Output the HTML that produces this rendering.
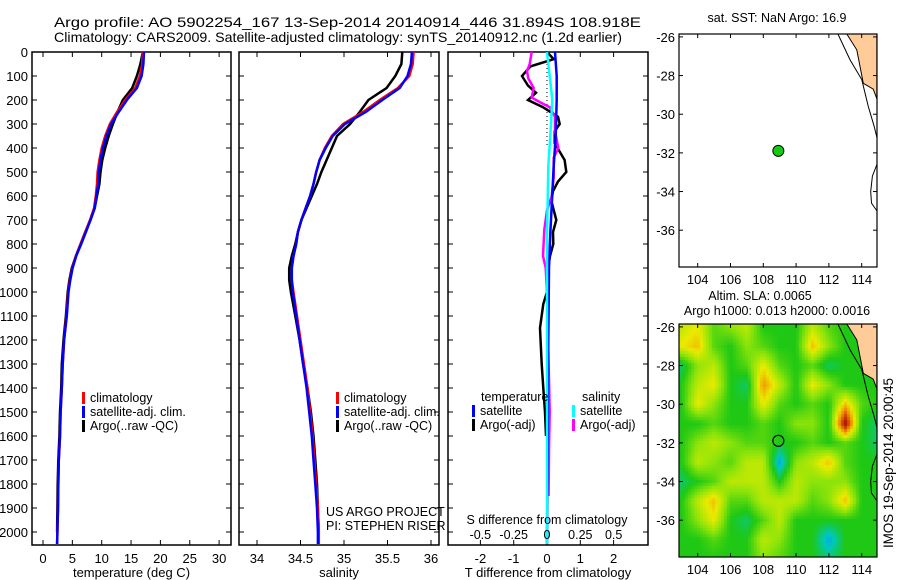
<!DOCTYPE html>
<html><head><meta charset="utf-8"><style>
body{margin:0;background:#fff}
#wrap{position:relative;width:900px;height:580px}
#sla{position:absolute;left:679px;top:324px}
svg{position:absolute;left:0;top:0;display:block;font-family:"Liberation Sans",sans-serif}
</style></head><body>
<div id="wrap">
<canvas id="sla" width="198" height="233"></canvas>
<svg id="fig" width="900" height="580" viewBox="0 0 900 580">
<text x="54" y="27" font-size="14" textLength="587" lengthAdjust="spacingAndGlyphs">Argo profile: AO 5902254_167 13-Sep-2014 20140914_446 31.894S 108.918E</text>
<text x="54" y="42" font-size="14" textLength="568" lengthAdjust="spacingAndGlyphs">Climatology: CARS2009. Satellite-adjusted climatology: synTS_20140912.nc (1.2d earlier)</text>
<g id="layer"></g>
<text transform="translate(893,548) rotate(-90)" font-size="13.5" textLength="170">IMOS 19-Sep-2014 20:00:45</text>
</svg>
</div>
<script>
// ---- profile data ----
const depths = [0,50,100,150,200,250,300,350,400,450,500,550,600,650,700,750,800,850,900,950,1000,1100,1200,1300,1400,1500,1600,1700,1800,1900,2000,2050];
const tempClim = [17.0,16.9,16.5,15.7,14.0,12.6,11.4,10.6,10.0,9.6,9.3,9.2,9.0,8.7,8.0,7.2,6.4,5.6,5.0,4.6,4.3,4.0,3.6,3.35,3.2,3.0,2.9,2.7,2.6,2.55,2.45,2.4];
const tempSat  = [17.2,17.1,16.8,16.0,14.3,12.9,11.6,10.8,10.2,9.8,9.5,9.4,9.1,8.8,8.1,7.3,6.5,5.65,5.05,4.65,4.35,4.05,3.6,3.35,3.2,3.0,2.9,2.7,2.6,2.55,2.45,2.4];
const tempArgo = [17.0,16.6,16.0,15.2,13.6,12.7,11.9,11.2,10.6,10.1,9.8,9.6,9.2,8.8,8.1,7.2,6.4,5.6,4.9,4.5,4.2,3.9,3.5,3.2,3.1,2.9,2.8,2.6,2.5,2.45,2.4,null];
const salClim = [35.80,35.79,35.75,35.62,35.41,35.22,34.99,34.86,34.78,34.72,34.68,34.65,34.61,34.56,34.51,34.47,34.45,34.42,34.40,34.40,34.42,34.46,34.50,34.54,34.58,34.61,34.64,34.66,34.68,34.70,34.71,34.71];
const salSat  = [35.78,35.77,35.73,35.64,35.44,35.25,35.01,34.87,34.79,34.72,34.68,34.65,34.61,34.56,34.51,34.47,34.45,34.42,34.40,34.40,34.41,34.45,34.49,34.53,34.57,34.60,34.63,34.65,34.67,34.69,34.70,34.70];
const salArgo = [35.67,35.66,35.59,35.49,35.28,35.18,35.07,34.92,34.86,34.80,34.74,34.69,34.63,34.57,34.51,34.47,34.44,34.40,34.37,34.37,34.39,34.44,34.49,34.53,34.58,34.62,34.65,34.67,34.69,34.70,34.71,null];
// ---- difference panel data ----
const diffDepthT = [0,30,60,100,140,170,200,230,270,300,330,380,450,500,540,580,620,700,750,800,850,900,1000,1050,1150,1300,1400,1500,1600];
const tDiffArgo  = [0,0.2,-0.5,-0.75,-0.57,-0.33,-0.57,-0.12,0.33,0.38,0.23,0.23,0.53,0.58,0.33,0.18,0.13,0.28,0.18,0.19,0.09,0.04,0,-0.11,-0.21,-0.16,-0.11,-0.06,-0.03];
const diffDepthSat = [0,100,200,350,475,617,756,900,1200,1600,2050];
const tDiffSat   = [0.24,0.29,0.29,0.26,0.2,0.15,0.1,0.06,0.04,0.02,0.0];
const sDiffSat   = [0,0.02,0.04,0.025,0.01,0.005,0,0,0,0,0];
const diffDepthS = [0,50,80,110,150,190,210,230,270,330,400,440,520,600,660,740,850,900,1000,1500,1650,1850];
const sDiffArgo  = [-0.115,-0.13,-0.15,-0.14,-0.1,-0.115,-0.05,0.02,0.06,0.06,0.085,0.05,0.05,0.035,0,-0.02,-0.03,-0.01,0,0.02,0.015,0.012];
// ---- axis ticks ----
const depthTicks = [0,100,200,300,400,500,600,700,800,900,1000,1100,1200,1300,1400,1500,1600,1700,1800,1900,2000];
const tempTicks = [0,5,10,15,20,25,30];
const salTicks = [34,34.5,35,35.5,36];
const tDiffTicks = [-2,-1,0,1,2];
const sDiffTicks = [-0.5,-0.25,0,0.25,0.5];
const lonTicks = [104,106,108,110,112,114];
const latTicks = [-26,-28,-30,-32,-34,-36];
// ---- map data ----
const argoLon = 108.918, argoLat = -31.894;
const gridLons = [103,104,105,106,107,108,109,110,111,112,113,114,115];
const gridLats = [-26,-27,-28,-29,-30,-31,-32,-33,-34,-35,-36,-37,-38];
const slaRows = [
[3.5,4,2.5,3,3.5,2,2,2,3.5,2.5,2,2,2],
[4,4.5,2.5,2,3,2.5,2,2,4.5,3,2,2,2],
[1.5,3,3.5,2,2.5,4,2.5,2,2.5,1.5,2,2,2],
[2,3.5,4,2,1.5,5,3.5,2,4,3,2,2,2],
[2,4,3,2,2,4,2.5,2,2.5,2,4.5,2.5,2],
[2,2,2.5,2,2,2.5,2,3,3,2,7,2,1.5],
[2,3,3.5,3,2.5,2.5,2,2,2.5,2,2.5,2,1.5],
[2,3.5,3,2.5,3.5,3.5,0.5,3,3.5,4.5,2.5,2,2],
[1.5,2,2.5,3.5,3.5,3.5,2,3.5,3,3,3,2,2],
[2,3.5,4.5,2.5,2.5,3.5,3.5,3.5,2.5,3,4.5,2,2],
[2,3,4,2,1.5,2.5,3.5,2,2,2,2,2,2],
[2,2,2.5,2,2,3.5,3,2,2,0.5,2,2,2],
[2,2,2,2,2,3,2.5,2,2,1.5,2,2,2]];
const landLon = [113.09,113.7,114.1,114.7,114.93,114.93];
const landLat = [-25.85,-26.67,-28.4,-28.7,-29.2,-25.85];
const shelfLon = [112.55,113.3,114.0,114.4,114.75,114.93];
const shelfLat = [-25.85,-27.2,-28.2,-29.6,-30.6,-31.2];
const bankLon = [114.93,114.65,114.55,114.6,114.93];
const bankLat = [-32.6,-33.2,-34.0,-34.6,-35.0];

const NS='http://www.w3.org/2000/svg';
const layer=document.getElementById('layer');
function mk(tag,attrs,parent){const e=document.createElementNS(NS,tag);for(const k in attrs)e.setAttribute(k,attrs[k]);(parent||layer).appendChild(e);return e;}
const Y=d=>52+d*0.24;
const X1=t=>43+t*5.87;
const X2=s=>257+(s-34)*87;
const X3=t=>547+t*33.3;
const X3s=s=>547+s*133.3;
const ML=679,MR=877,MT=34,M2T=324;
const MX=lon=>ML+(lon-102.86)*16.4;
const MY=(lat,top)=>top+(-25.85-lat)*19.33;

function stepPath(xs,ds,fx){let p='';let started=false;
 for(let i=0;i<xs.length;i++){if(xs[i]==null)continue;const x=fx(xs[i]).toFixed(1),y=Y(ds[i]).toFixed(1);p+=(started?'L':'M')+x+','+y;started=true;}return p;}

function panel(name,x0,x1,ticks,fx,labels,xlabel,ylabels){
 const g=mk('g',{});
 
 
 const r=mk('rect',{x:x0,y:52,width:x1-x0,height:493,fill:'none',stroke:'#000','stroke-width':1.5},g);
 
 
 ticks.forEach((t,i)=>{const x=fx(t);
  mk('line',{x1:x,x2:x,y1:545,y2:540,stroke:'#000'},g);
  mk('line',{x1:x,x2:x,y1:52,y2:57,stroke:'#000'},g);
  if(labels){const tx=mk('text',{x:x,y:563,'font-size':13,'text-anchor':'middle'},g);tx.textContent=labels[i];
   
   }
 });
 depthTicks.forEach(d=>{const y=Y(d);
  mk('line',{x1:x0,x2:x0+5,y1:y,y2:y,stroke:'#000'},g);
  mk('line',{x1:x1,x2:x1-5,y1:y,y2:y,stroke:'#000'},g);
  if(ylabels){const tx=mk('text',{x:x0-4,y:y+5,'font-size':13,'text-anchor':'end'},g);tx.textContent=d;
   
   }
 });
 if(xlabel){const tx=mk('text',{x:(x0+x1)/2,y:577,'font-size':13,'text-anchor':'middle'},g);tx.textContent=xlabel;
  
  }
 return g;
}
function line(g,d,color,name,w){const p=mk('path',{d:d,fill:'none',stroke:color,'stroke-width':w||2.5,'stroke-linejoin':'miter'},g);
 
 return p;}
function legend(g,x,y,color,label){
 const m=mk('rect',{x:x,y:y-10,width:3,height:12,fill:color},g);
 
 
 const t=mk('text',{x:x+8,y:y,'font-size':12.5},g);t.textContent=label;
 
 }
function txt(g,x,y,s,name,anchor,size){const t=mk('text',{x:x,y:y,'font-size':size||12.5,'text-anchor':anchor||'start'},g);t.textContent=s;
 
 return t;}

// panel 1
const g1=panel('temperature-panel',32,231,tempTicks,X1,tempTicks.map(String),'temperature (deg C)',true);
line(g1,stepPath(tempArgo,depths,X1),'#000','temp-argo-line');
line(g1,stepPath(tempClim,depths,X1),'#f00','temp-climatology-line');
line(g1,stepPath(tempSat,depths,X1),'#00f','temp-satellite-line');
legend(g1,82,402,'#f00','climatology');legend(g1,82,416,'#00f','satellite-adj. clim.');legend(g1,82,430,'#000','Argo(..raw -QC)');
// panel 2
const g2=panel('salinity-panel',239,439,salTicks,X2,salTicks.map(String),'salinity',false);
line(g2,stepPath(salArgo,depths,X2),'#000','sal-argo-line');
line(g2,stepPath(salClim,depths,X2),'#f00','sal-climatology-line');
line(g2,stepPath(salSat,depths,X2),'#00f','sal-satellite-line');
legend(g2,336,402,'#f00','climatology');legend(g2,336,416,'#00f','satellite-adj. clim.');legend(g2,336,430,'#000','Argo(..raw -QC)');
txt(g2,326,516,'US ARGO PROJECT','credit-project');txt(g2,326,530,'PI: STEPHEN RISER','credit-pi');
// panel 3
const g3=panel('difference-panel',448,648,tDiffTicks,X3,tDiffTicks.map(String),'T difference from climatology',false);
mk('line',{x1:547,x2:547,y1:52,y2:Y(400),stroke:'#000','stroke-dasharray':'1,3'},g3);
line(g3,stepPath(tDiffArgo,diffDepthT,X3),'#000','tdiff-argo-line');
line(g3,stepPath(sDiffArgo,diffDepthS,X3s),'#f0f','sdiff-argo-line');
line(g3,stepPath(tDiffSat,diffDepthSat,X3),'#00f','tdiff-satellite-line');
line(g3,stepPath(sDiffSat,diffDepthSat,X3s),'#0ff','sdiff-satellite-line');
txt(g3,481,401,'temperature','legend-header-temperature');txt(g3,582,401,'salinity','legend-header-salinity');
legend(g3,472,415,'#00f','satellite');legend(g3,472,429,'#000','Argo(-adj)');
legend(g3,572,415,'#0ff','satellite');legend(g3,572,429,'#f0f','Argo(-adj)');
txt(g3,547,524,'S difference from climatology','s-diff-axis-title','middle');
sDiffTicks.forEach(s=>txt(g3,X3s(s),539,String(s),'s-diff-tick-label','middle'));

// maps
function mapFrame(name){
 const g=mk('g',{});
 
 
 return g;}
function mapAxes(g,top){
 const bot=top+233;
 const r=mk('rect',{x:ML,y:top,width:MR-ML,height:233,fill:'none',stroke:'#000','stroke-width':1.2},g);
 
 
 lonTicks.forEach(l=>{const x=MX(l);mk('line',{x1:x,x2:x,y1:bot,y2:bot-4,stroke:'#000'},g);mk('line',{x1:x,x2:x,y1:top,y2:top+4,stroke:'#000'},g);
  txt(g,x,bot+17,String(l),'lon-tick-label','middle',13);});
 latTicks.forEach(l=>{const y=MY(l,top);mk('line',{x1:ML,x2:ML+4,y1:y,y2:y,stroke:'#000'},g);mk('line',{x1:MR,x2:MR-4,y1:y,y2:y,stroke:'#000'},g);
  txt(g,ML-4,y+5,String(l),'lat-tick-label','end',13);});
}
function coast(g,top){
 const pts=landLon.map((l,i)=>MX(l).toFixed(1)+','+MY(landLat[i],top).toFixed(1)).join(' ');
 const land=mk('polygon',{points:pts,fill:'#ffcc99',stroke:'#000','stroke-width':1},g);
 
 
 const s=mk('polyline',{points:shelfLon.map((l,i)=>MX(l).toFixed(1)+','+MY(shelfLat[i],top).toFixed(1)).join(' '),fill:'none',stroke:'#000','stroke-width':1},g);
 
 
 const b=mk('polyline',{points:bankLon.map((l,i)=>MX(l).toFixed(1)+','+MY(bankLat[i],top).toFixed(1)).join(' '),fill:'none',stroke:'#000','stroke-width':1},g);
 
 
}
// map 1
const m1=mapFrame('sst-map');
txt(m1,777,22,'sat. SST: NaN Argo: 16.9','sst-map-title','middle');
coast(m1,MT);
const dot=mk('circle',{cx:MX(argoLon),cy:MY(argoLat,MT),r:5.5,fill:'#11cc11',stroke:'#000','stroke-width':1},m1);


mapAxes(m1,MT);
// map 2 (heatmap rendered on canvas from slaRows grid)
const stops=[[0,[0,140,255]],[1,[0,200,190]],[2,[30,200,20]],[3,[140,228,10]],[4,[235,235,0]],[5,[240,150,0]],[6,[210,60,0]],[7,[150,20,0]]];
function colArr(v){v=Math.max(0,Math.min(7,v));const i=Math.min(6,Math.floor(v)),f=v-i;const a=stops[i][1],b=stops[i+1][1];
 return a.map((c,k)=>Math.round(c+(b[k]-c)*f));}
function sample(lon,lat){
 let fc=(lon-gridLons[0])/(gridLons[1]-gridLons[0]); let fr=(lat-gridLats[0])/(gridLats[1]-gridLats[0]);
 fc=Math.max(0,Math.min(gridLons.length-1.001,fc)); fr=Math.max(0,Math.min(gridLats.length-1.001,fr));
 const c=Math.floor(fc),r=Math.floor(fr),tx=fc-c,ty=fr-r;
 const a=slaRows[r][c],b=slaRows[r][c+1],d=slaRows[r+1][c],e=slaRows[r+1][c+1];
 return (a*(1-tx)+b*tx)*(1-ty)+(d*(1-tx)+e*tx)*ty;}
const cv=document.getElementById('sla'),ctx=cv.getContext('2d');
const PX=3;
for(let py=0;py<233;py+=PX){for(let px=0;px<198;px+=PX){
 const lon=102.86+(px+PX/2)/16.4, lat=-25.85-(py+PX/2)/19.33;
 const c=colArr(sample(lon,lat));ctx.fillStyle='rgb('+c.join(',')+')';ctx.fillRect(px,py,PX,PX);}}
const m2=mapFrame('sla-map');
txt(m2,760,300,'Altim. SLA: 0.0065','sla-map-title','middle');
txt(m2,777,315,'Argo h1000: 0.013 h2000: 0.0016','steric-height-title','middle');
coast(m2,M2T);
const ring=mk('circle',{cx:MX(argoLon),cy:MY(argoLat,M2T),r:5.5,fill:'none',stroke:'#000','stroke-width':1.2},m2);


mapAxes(m2,M2T);
</script>
</body></html>
